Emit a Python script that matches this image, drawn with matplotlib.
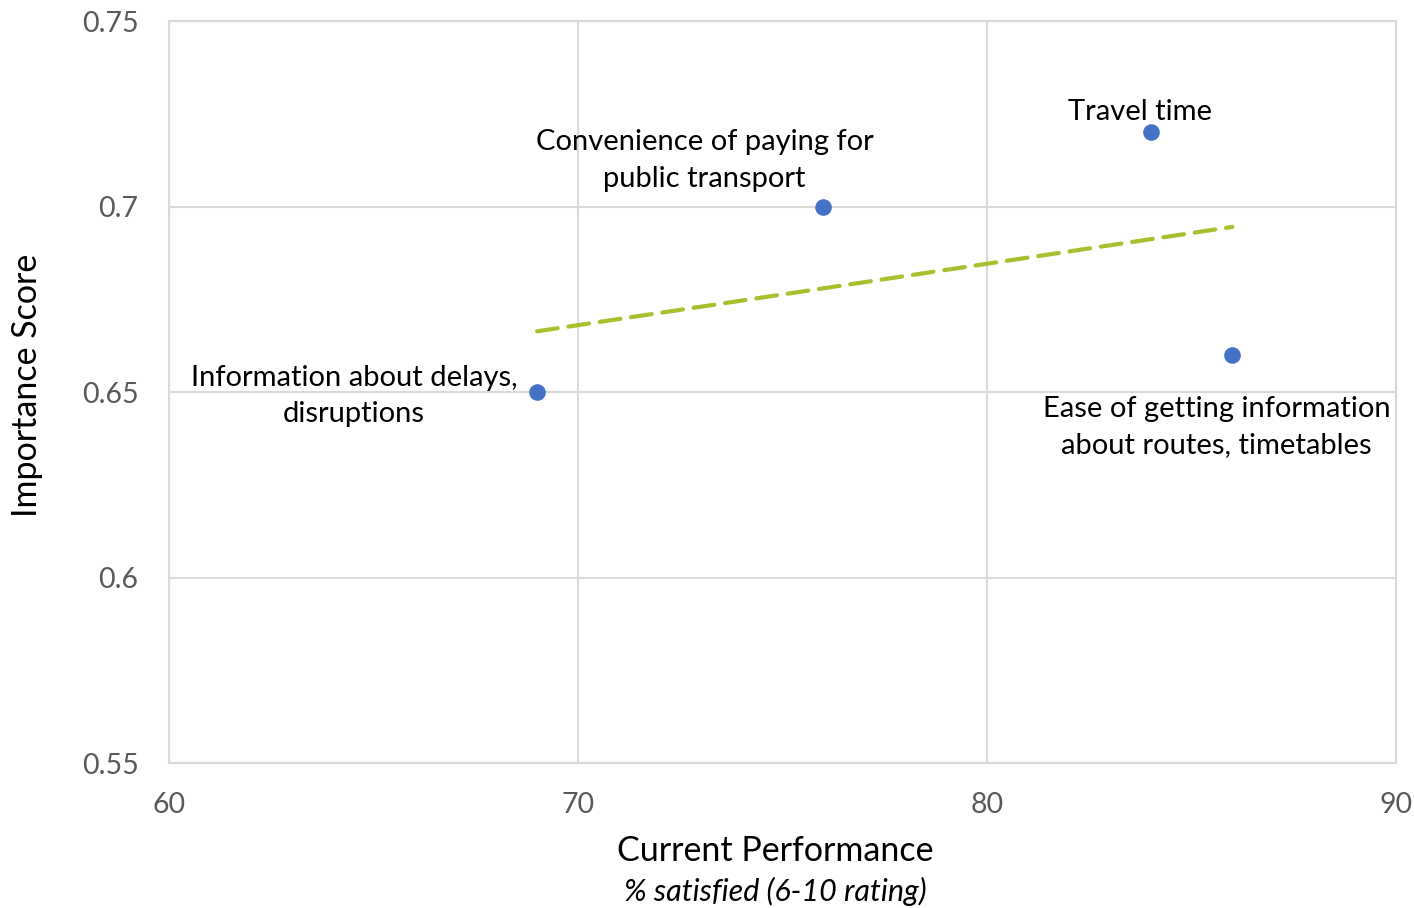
import matplotlib.pyplot as plt
import numpy as np

# 数据
performance = [69, 76, 84, 86]
importance = [0.65, 0.70, 0.72, 0.66]
labels = [
    "Information about delays,\ndisruptions",
    "Convenience of paying for\npublic transport",
    "Travel time",
    "Ease of getting information\nabout routes, timetables",
]
# 标签偏移（像素）
offsets_px = [(-183, -4), (-119, 46), (-11, 20), (-16, -72)]

x_ticks = [60, 70, 80, 90]
y_ticks = [0.55, 0.6, 0.65, 0.7, 0.75]

plt.rcParams["font.family"] = ["Lato", "DejaVu Sans"]

fig = plt.figure(figsize=(14.14, 9.08), dpi=100)
ax = fig.add_axes([169 / 1414, 1 - 763 / 908, (1396 - 169) / 1414, (763 - 21) / 908])

# 网格与边框
grid_c = "#D9D9D9"
ax.set_axisbelow(True)
ax.grid(True, color=grid_c, linewidth=1.5)
for s in ax.spines.values():
    s.set_color(grid_c)
    s.set_linewidth(1.5)

# 趋势线（线性拟合）
k, b = np.polyfit(performance, importance, 1)
tx = np.array([min(performance), max(performance)])
ax.plot(tx, k * tx + b, color="#A5C12D", linewidth=3, dashes=(5, 2.6),
        dash_capstyle="round", zorder=2)

ax.scatter(performance, importance, s=120, color="#4472C4", zorder=3)

for x, y, t, (dx, dy) in zip(performance, importance, labels, offsets_px):
    ax.annotate(t, (x, y), xytext=(dx * 0.72, dy * 0.72), textcoords="offset points",
                ha="center", va="center", fontsize=21, color="#000000",
                linespacing=1.5)

ax.set_xlim(60, 90)
ax.set_ylim(0.55, 0.75)
ax.set_xticks(x_ticks)
ax.set_yticks(y_ticks)
ax.set_yticklabels(["0.55", "0.6", "0.65", "0.7", "0.75"])
ax.tick_params(axis="both", length=0, labelsize=20.5, labelcolor="#595959")
ax.tick_params(axis="y", pad=22)
ax.tick_params(axis="x", pad=21)

fig.text(775 / 1414, 1 - 851 / 908, "Current Performance", ha="center", va="center",
         fontsize=24.5, color="#000000")
fig.text(775 / 1414, 1 - 891 / 908, "% satisfied (6-10 rating)", ha="center", va="center",
         fontsize=22, style="italic", color="#000000")
fig.text(27 / 1414, 1 - 385 / 908, "Importance Score", ha="center", va="center",
         rotation=90, fontsize=24.5, color="#000000")

fig.savefig("out.png", dpi=100)
